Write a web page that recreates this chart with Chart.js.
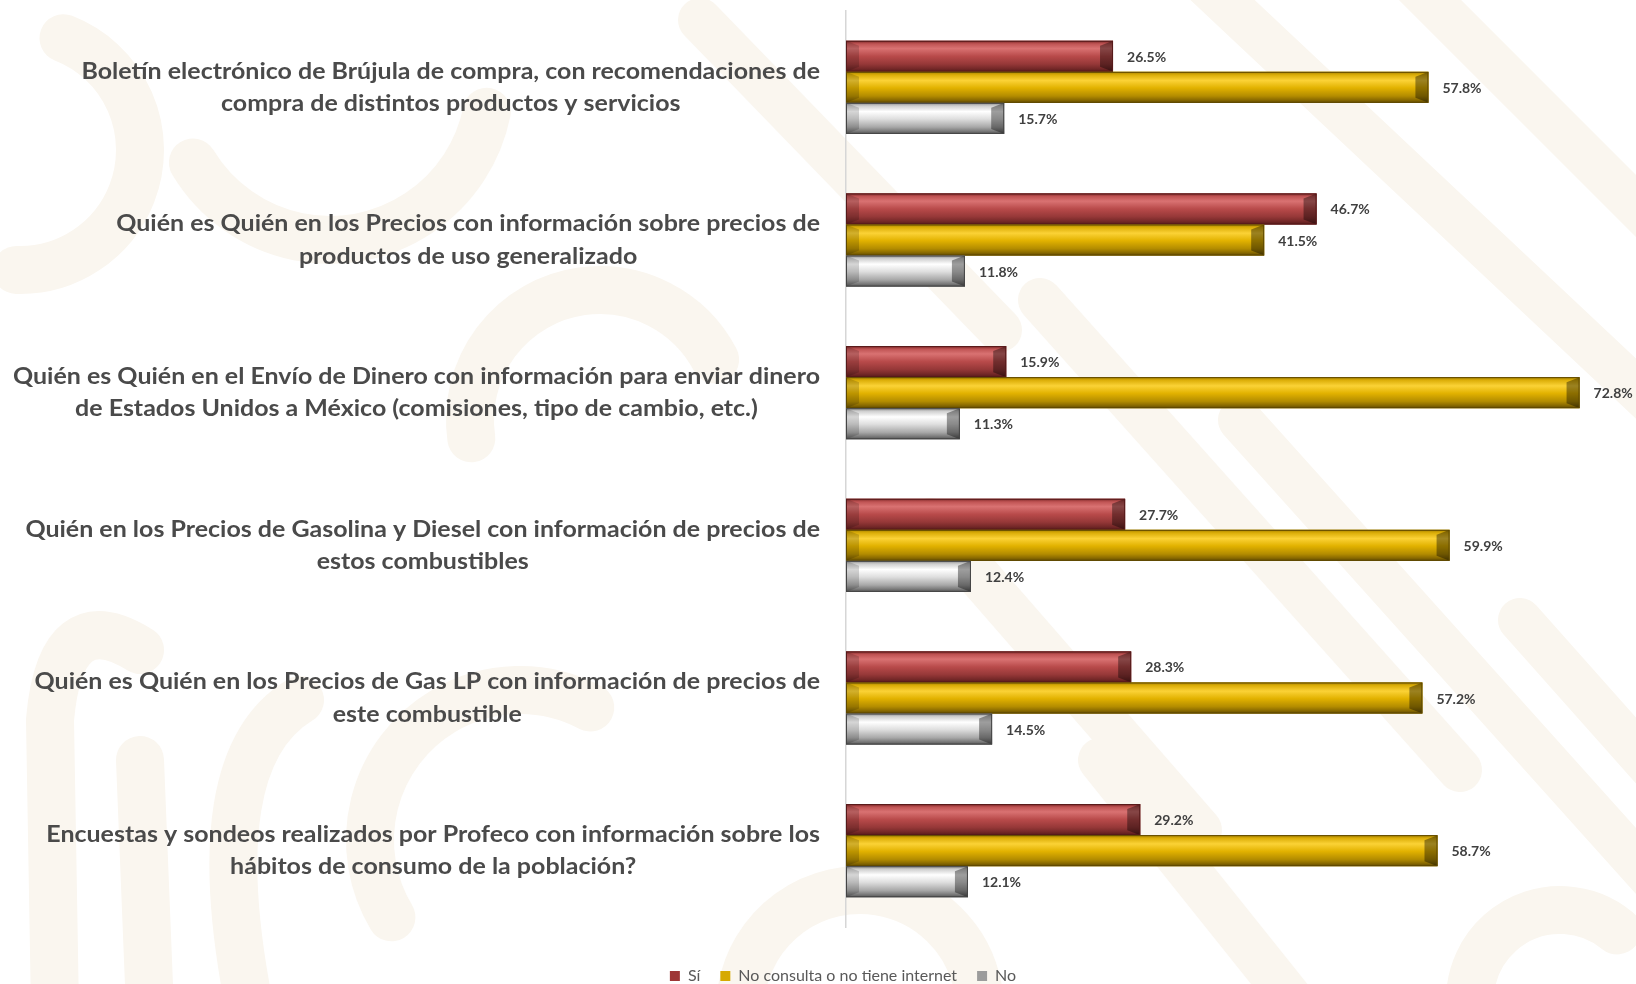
<!DOCTYPE html>
<html><head><meta charset="utf-8">
<script src="https://cdn.jsdelivr.net/npm/chart.js@4.4.1/dist/chart.umd.min.js"></script>
<style>html,body{margin:0;padding:0;background:#fff;overflow:hidden}</style>
</head><body>
<canvas id="c" width="1636" height="984"></canvas>
<script>
const categories = [
  ["Boletín electrónico de Brújula de compra, con recomendaciones de", "compra de distintos productos y servicios"],
  ["Quién es Quién en los Precios con información sobre precios de", "productos de uso generalizado"],
  ["Quién es Quién en el Envío de Dinero con información para enviar dinero", "de Estados Unidos a México (comisiones, tipo de cambio, etc.)"],
  ["Quién en los Precios de Gasolina y Diesel con información de precios de", "estos combustibles"],
  ["Quién es Quién en los Precios de Gas LP con información de precios de", "este combustible"],
  ["Encuestas y sondeos realizados por Profeco con información sobre los", "hábitos de consumo de la población?"]
];
const seriesNames = ["Sí", "No consulta o no tiene internet", "No"];
const siValues = [26.5, 46.7, 15.9, 27.7, 28.3, 29.2];
const noConsultaValues = [57.8, 41.5, 72.8, 59.9, 57.2, 58.7];
const noValues = [15.7, 11.8, 11.3, 12.4, 14.5, 12.1];

const baseColors = ['#9e3636', '#d6a900', '#9c9c9c'];
const palettes = [
  {stops: [[0,'#7e2828'],[0.1,'#c05454'],[0.25,'#d97272'],[0.5,'#b84a4a'],[0.75,'#963838'],[0.9,'#742828'],[1,'#561a1a']], border: '#561a1a'},
  {stops: [[0,'#a88200'],[0.1,'#dcae08'],[0.28,'#fbd236'],[0.52,'#e2b200'],[0.78,'#b38c00'],[0.9,'#8c6c00'],[1,'#624b00']], border: '#5e4800'},
  {stops: [[0,'#8a8a8a'],[0.1,'#cfcfcf'],[0.28,'#ffffff'],[0.52,'#dedede'],[0.78,'#a8a8a8'],[0.9,'#7e7e7e'],[1,'#555555']], border: '#444444'}
];

const bgPlugin = {
  id: 'bg',
  beforeDraw(chart) {
    const ctx = chart.ctx;
    ctx.save();
    ctx.fillStyle = '#ffffff';
    ctx.fillRect(0, 0, chart.width, chart.height);
    ctx.strokeStyle = '#faf6ef';
    ctx.lineCap = 'round';
    ctx.lineWidth = 44;
    const lines = [
      [1180,-40,1680,430],[1390,-40,1680,250],[1040,300,1460,770],[1240,420,1680,910],
      [1520,620,1680,800],[930,520,1200,830],[1100,760,1300,1010],[700,20,1000,330]
    ];
    lines.forEach(l => { ctx.beginPath(); ctx.moveTo(l[0], l[1]); ctx.lineTo(l[2], l[3]); ctx.stroke(); });
    ctx.lineWidth = 48;
    ctx.beginPath(); ctx.moveTo(55, 1010); ctx.lineTo(50, 720); ctx.quadraticCurveTo(60, 600, 140, 650); ctx.stroke();
    ctx.beginPath(); ctx.moveTo(150, 1010); ctx.lineTo(140, 760); ctx.stroke();
    ctx.beginPath(); ctx.moveTo(250, 1010); ctx.quadraticCurveTo(200, 760, 300, 700); ctx.stroke();
    ctx.beginPath(); ctx.arc(20, 150, 120, -1.2, 1.6); ctx.stroke();
    ctx.beginPath(); ctx.arc(330, 80, 160, 0.2, 2.6); ctx.stroke();
    ctx.beginPath(); ctx.arc(860, 1010, 120, 3.3, 6.1); ctx.stroke();
    ctx.beginPath(); ctx.arc(520, 840, 150, 2.6, 5.2); ctx.stroke();
    ctx.beginPath(); ctx.arc(600, 420, 130, 3.0, 5.8); ctx.stroke();
    ctx.beginPath(); ctx.arc(1560, 1000, 90, 3.2, 5.4); ctx.stroke();
    ctx.restore();
  }
};

const barStylePlugin = {
  id: 'barStyle',
  afterDatasetsDraw(chart) {
    const ctx = chart.ctx;
    ctx.save();
    chart.data.datasets.forEach((ds, di) => {
      const meta = chart.getDatasetMeta(di);
      const pal = palettes[di];
      meta.data.forEach(el => {
        const p = el.getProps(['x', 'y', 'base', 'height'], true);
        const l = Math.min(p.base, p.x), r = Math.max(p.base, p.x);
        const t = p.y - p.height / 2, b = p.y + p.height / 2;
        const g = ctx.createLinearGradient(0, t, 0, b);
        pal.stops.forEach(s => g.addColorStop(s[0], s[1]));
        ctx.fillStyle = g;
        ctx.fillRect(l, t, r - l, b - t);
        const bx = 13, by = 5;
        ctx.fillStyle = 'rgba(0,0,0,0.38)';
        ctx.beginPath(); ctx.moveTo(r, t); ctx.lineTo(r, b); ctx.lineTo(r - bx, b - by); ctx.lineTo(r - bx, t + by); ctx.closePath(); ctx.fill();
        ctx.fillStyle = 'rgba(0,0,0,0.16)';
        ctx.beginPath(); ctx.moveTo(l, t); ctx.lineTo(l + bx, t + by); ctx.lineTo(l + bx, b - by); ctx.lineTo(l, b); ctx.closePath(); ctx.fill();
        ctx.strokeStyle = pal.border;
        ctx.lineWidth = 1;
        ctx.strokeRect(l + 0.5, t + 0.5, r - l - 1, b - t - 1);
      });
    });
    ctx.restore();
  }
};

const valueLabelPlugin = {
  id: 'valueLabels',
  afterDatasetsDraw(chart) {
    const ctx = chart.ctx;
    ctx.save();
    ctx.font = 'bold 14px Lato, "Open Sans", sans-serif';
    ctx.fillStyle = '#404040';
    ctx.textAlign = 'left';
    ctx.textBaseline = 'middle';
    chart.data.datasets.forEach((ds, di) => {
      const meta = chart.getDatasetMeta(di);
      meta.data.forEach((el, i) => {
        const p = el.getProps(['x', 'y'], true);
        ctx.fillText(ds.data[i].toFixed(1) + '%', p.x + 14, p.y + 1);
      });
    });
    ctx.restore();
  }
};

const categoryLabelPlugin = {
  id: 'catLabels',
  afterDraw(chart) {
    const ctx = chart.ctx;
    const ys = chart.scales.y;
    const rightX = chart.chartArea.left - 26;
    ctx.save();
    ctx.font = 'bold 23px Lato, "Open Sans", sans-serif';
    ctx.fillStyle = '#4a4a4a';
    ctx.textAlign = 'center';
    ctx.textBaseline = 'middle';
    let widest = 0;
    categories.forEach(c => c.forEach(line => { widest = Math.max(widest, ctx.measureText(line).width); }));
    const sx = (rightX - 13) / widest;
    categories.forEach((c, i) => {
      const yc = ys.getPixelForValue(i);
      let w = 0;
      c.forEach(line => { w = Math.max(w, ctx.measureText(line).width * sx); });
      const cx = rightX - w / 2;
      c.forEach((line, k) => {
        const y = yc + (k - (c.length - 1) / 2) * 32.5;
        ctx.save();
        ctx.translate(cx, y);
        ctx.scale(sx, 1);
        ctx.fillText(line, 0, 0);
        ctx.restore();
      });
    });
    ctx.restore();
  }
};

const legendShiftPlugin = {
  id: 'legendShift',
  afterLayout(chart) {
    if (chart.legend) { chart.legend.top += 10; chart.legend.bottom += 10; }
  }
};

new Chart(document.getElementById('c'), {
  type: 'bar',
  data: {
    labels: categories.map(c => c.join(' ')),
    datasets: [
      {label: seriesNames[0], data: siValues, backgroundColor: baseColors[0], borderWidth: 0},
      {label: seriesNames[1], data: noConsultaValues, backgroundColor: baseColors[1], borderWidth: 0},
      {label: seriesNames[2], data: noValues, backgroundColor: baseColors[2], borderWidth: 0}
    ]
  },
  options: {
    indexAxis: 'y',
    responsive: false,
    animation: false,
    devicePixelRatio: 1,
    layout: {padding: {top: 11, left: 50, right: 0, bottom: 0}},
    datasets: {bar: {categoryPercentage: 0.61, barPercentage: 1.0}},
    scales: {
      x: {
        min: 0, max: 78.4,
        display: true,
        ticks: {display: false},
        grid: {display: false, drawTicks: false},
        border: {display: false},
        afterFit(s) { s.height = 11; }
      },
      y: {
        ticks: {display: false},
        grid: {display: false, drawTicks: false},
        border: {display: true, color: '#d6d6d6', width: 1.5},
        afterFit(s) { s.width = 796; }
      }
    },
    plugins: {
      legend: {
        position: 'bottom',
        labels: {
          boxWidth: 10, boxHeight: 10, padding: 20,
          color: '#595959',
          font: {family: 'Lato, "Open Sans", sans-serif', size: 16}
        }
      },
      tooltip: {enabled: false}
    }
  },
  plugins: [bgPlugin, barStylePlugin, valueLabelPlugin, categoryLabelPlugin, legendShiftPlugin]
});
</script>
</body></html>
